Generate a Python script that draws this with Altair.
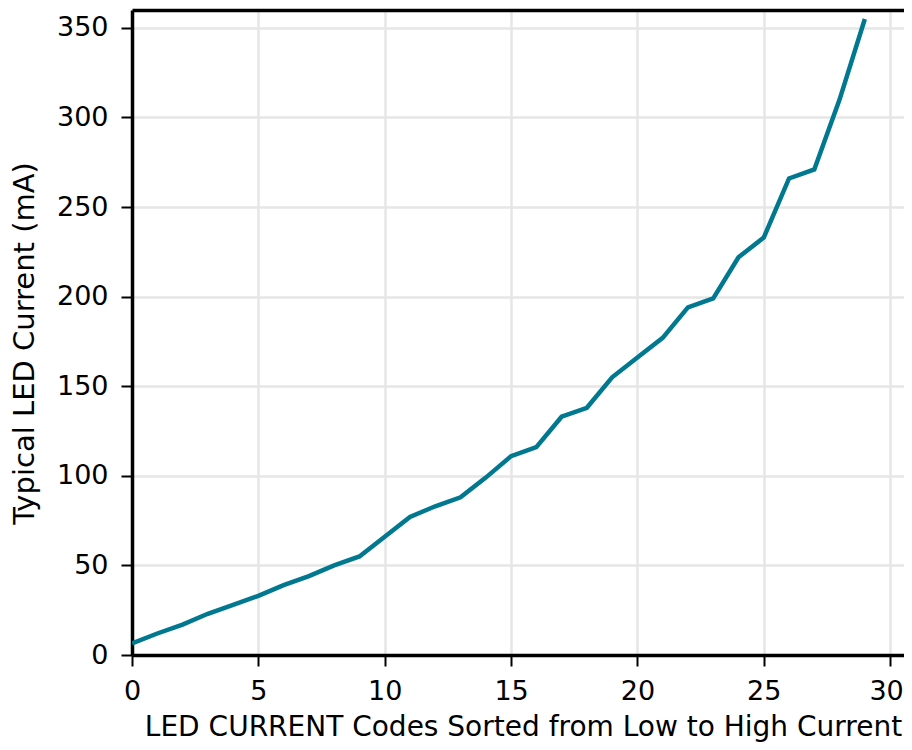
import altair as alt
import pandas as pd

codes = list(range(30))
current_ma = [6.5, 12, 17, 23, 28, 33, 39, 44, 50, 55,
              66, 77, 83, 88, 99, 111, 116, 133, 138, 155,
              166, 177, 194, 199, 222, 233, 266, 271, 310, 355]
x_ticks = [0, 5, 10, 15, 20, 25, 30]
y_ticks = [0, 50, 100, 150, 200, 250, 300, 350]

df = pd.DataFrame({"code": codes, "current": current_ma})

FONT = "DejaVu Sans"
LINE_COLOR = "#00788f"

x_scale = alt.Scale(domain=[0, 30.55], nice=False, zero=False)
y_scale = alt.Scale(domain=[0, 360], nice=False)

y_axis = alt.Axis(title="Typical LED Current (mA)",
                  values=y_ticks, format="d",
                  titleX=-98.5, titleY=333, titleBaseline="alphabetic",
                  titleAlign="center", titleAngle=-90, titleFontSize=29,
                  labelPadding=13)

line = alt.Chart(df).mark_line(color=LINE_COLOR, strokeWidth=4.5, clip=True).encode(
    x=alt.X("code:Q", scale=x_scale,
            axis=alt.Axis(title="LED CURRENT Codes Sorted from Low to High Current",
                          values=x_ticks, format="d", labelFlush=False,
                          titleX=391, titleY=80, titleBaseline="alphabetic",
                          titleAlign="center", titleFontSize=28,
                          labelPadding=12,
                          labelOffset={"condition": {"test": "datum.value == 30", "value": -4},
                                       "value": 0})),
    y=alt.Y("current:Q", scale=y_scale, axis=y_axis),
)

top = alt.Chart(df).mark_line(opacity=0).encode(
    x=alt.X("code:Q", scale=x_scale,
            axis=alt.Axis(orient="top", labels=False, ticks=False, grid=False,
                          title=None, domainWidth=3.5, domainColor="black")),
    y=alt.Y("current:Q", scale=y_scale, axis=y_axis),
)

chart = alt.layer(line, top).resolve_axis(x="independent", y="shared").properties(
    width=772, height=645,
    autosize=alt.AutoSizeParams(type="none"),
    padding={"left": 124, "top": 2, "right": 0, "bottom": 87},
).configure_view(stroke=None).configure_axis(
    labelFont=FONT, titleFont=FONT, labelFontSize=27,
    labelColor="black", titleColor="black", titleFontWeight="normal",
    domainColor="black", domainWidth=3.5,
    tickColor="black", tickWidth=2, tickSize=11,
    gridColor="#e6e6e6", gridWidth=2.5,
)

chart.save("out.html", embed_options={"renderer": "svg", "actions": False})
